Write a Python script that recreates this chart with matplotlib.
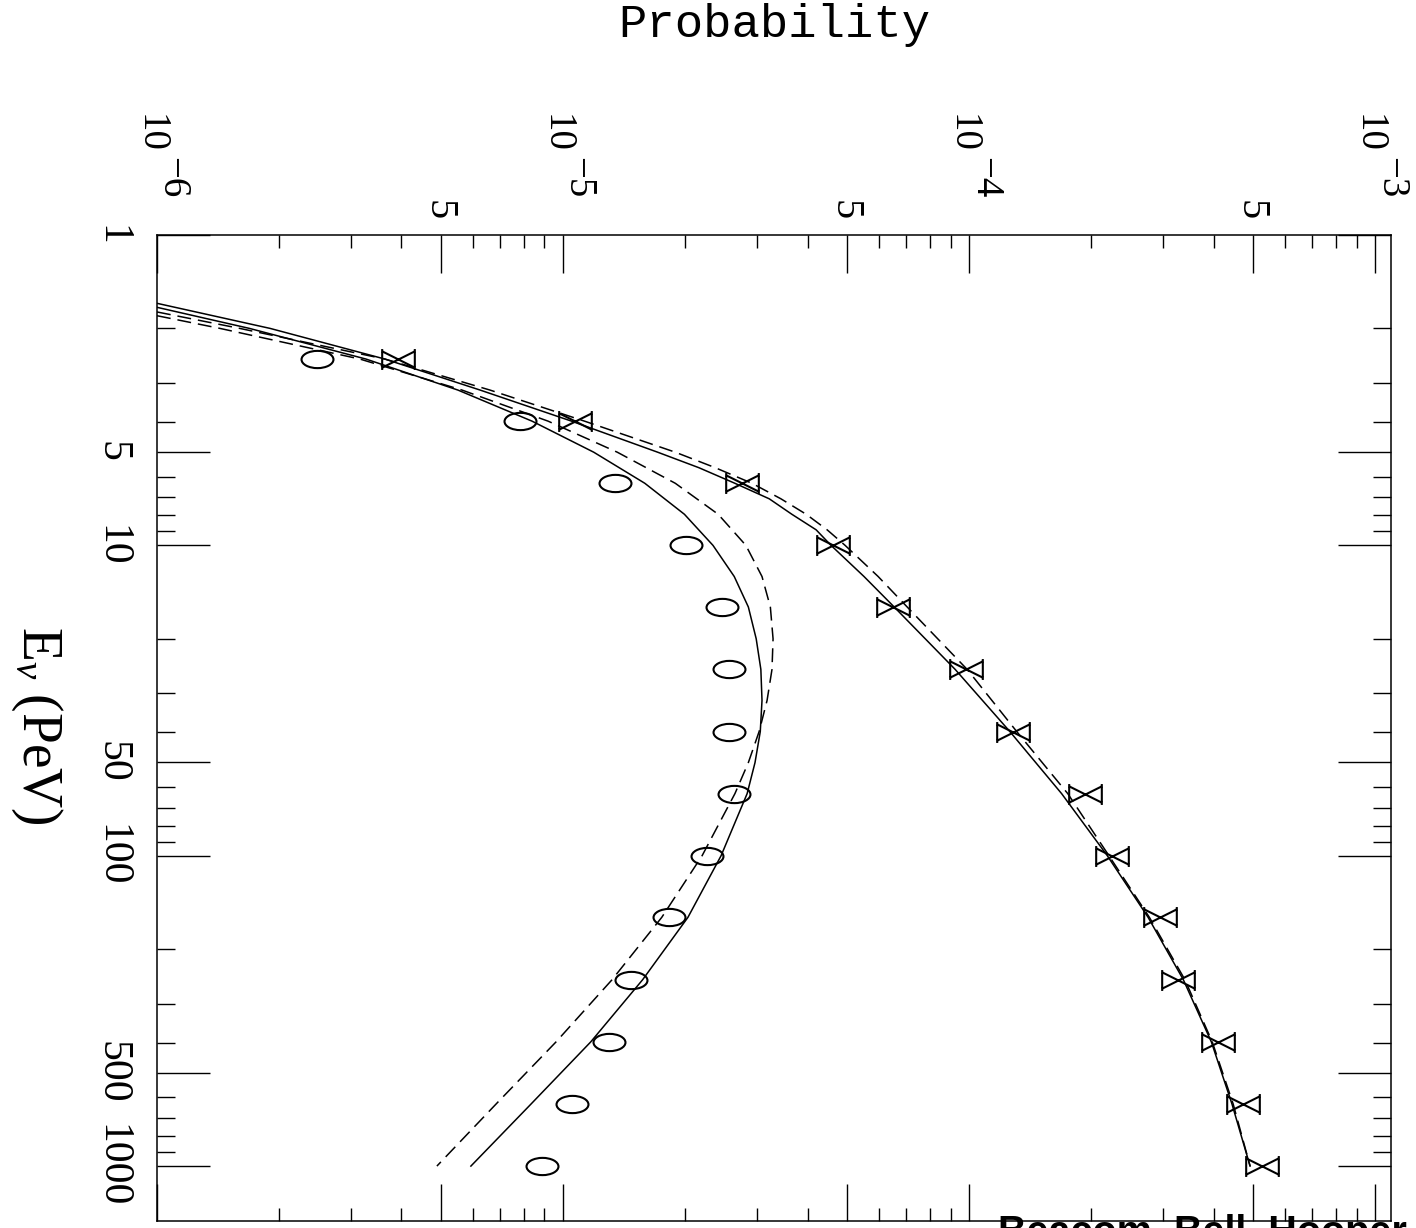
import matplotlib
matplotlib.use("Agg")
import matplotlib.pyplot as plt
from matplotlib.path import Path
from matplotlib.ticker import FixedLocator, NullFormatter
from matplotlib.transforms import blended_transform_factory, ScaledTranslation

plt.rcParams["lines.scale_dashes"] = False
plt.rcParams["mathtext.fontset"] = "custom"
plt.rcParams["mathtext.rm"] = "Liberation Serif"
plt.rcParams["mathtext.it"] = "Liberation Serif:italic"

# ---------------- data ----------------
E_points = [2.51, 3.98, 6.31, 10, 15.8, 25.1, 39.8, 63.1, 100, 158, 251, 398, 631, 1000]
P_x_points = [3.93e-6, 1.07e-5, 2.76e-5, 4.62e-5, 6.50e-5, 9.83e-5, 1.28e-4,
              1.93e-4, 2.25e-4, 2.95e-4, 3.27e-4, 4.10e-4, 4.73e-4, 5.27e-4]
P_o_points = [2.48e-6, 7.83e-6, 1.34e-5, 2.01e-5, 2.46e-5, 2.56e-5, 2.56e-5,
              2.64e-5, 2.26e-5, 1.82e-5, 1.47e-5, 1.30e-5, 1.05e-5, 8.87e-6]

# upper model curves (X series)
E_up_solid = [1.66, 2.0, 2.51, 3.16, 3.98, 5.01, 5.62, 6.31, 7.08, 7.94, 8.91, 10,
              12.6, 15.8, 25.1, 39.8, 63.1, 100, 158, 251, 398, 631, 1000]
P_up_solid = [1.00e-6, 1.90e-6, 3.64e-6, 6.25e-6, 1.05e-5, 1.71e-5, 2.16e-5, 2.65e-5,
              3.22e-5, 3.66e-5, 4.20e-5, 4.57e-5, 5.51e-5, 6.54e-5, 9.24e-5, 1.26e-4,
              1.69e-4, 2.19e-4, 2.76e-4, 3.37e-4, 3.95e-4, 4.44e-4, 4.92e-4]
E_up_dash = [1.77, 2.0, 2.51, 3.16, 3.98, 5.01, 5.62, 6.31, 7.08, 7.94, 8.91, 10,
             12.6, 15.8, 25.1, 39.8, 63.1, 100, 158, 251, 398, 631, 1000]
P_up_dash = [1.00e-6, 1.60e-6, 3.64e-6, 6.61e-6, 1.13e-5, 1.89e-5, 2.37e-5, 2.92e-5,
             3.44e-5, 3.97e-5, 4.47e-5, 4.95e-5, 5.97e-5, 7.04e-5, 9.89e-5, 1.31e-4,
             1.75e-4, 2.21e-4, 2.78e-4, 3.40e-4, 3.97e-4, 4.47e-4, 4.92e-4]

# lower model curves (O series)
E_lo_solid = [1.71, 2.0, 2.51, 3.16, 3.98, 5.01, 6.31, 7.94, 10, 12.6, 15.8, 20.0,
              25.1, 31.6, 39.8, 50.1, 63.1, 100, 158, 251, 398, 631, 1000]
P_lo_solid = [1.00e-6, 1.69e-6, 3.27e-6, 5.51e-6, 8.39e-6, 1.19e-5, 1.59e-5, 1.99e-5,
              2.34e-5, 2.64e-5, 2.86e-5, 2.99e-5, 3.07e-5, 3.09e-5, 3.06e-5, 2.97e-5,
              2.84e-5, 2.45e-5, 2.03e-5, 1.57e-5, 1.17e-5, 8.34e-6, 5.93e-6]
E_lo_dash = [1.82, 2.0, 2.51, 3.16, 3.98, 5.01, 6.31, 7.94, 10, 12.6, 15.8, 20.0,
             25.1, 31.6, 39.8, 50.1, 63.1, 100, 158, 251, 398, 631, 1000]
P_lo_dash = [1.00e-6, 1.43e-6, 3.16e-6, 5.64e-6, 9.19e-6, 1.36e-5, 1.89e-5, 2.41e-5,
             2.82e-5, 3.09e-5, 3.24e-5, 3.29e-5, 3.27e-5, 3.18e-5, 3.04e-5, 2.86e-5,
             2.65e-5, 2.20e-5, 1.75e-5, 1.32e-5, 9.61e-6, 6.84e-6, 4.89e-6]

P_major = [1e-6, 5e-6, 1e-5, 5e-5, 1e-4, 5e-4, 1e-3]
P_major_labels = [("10", "\u22126"), ("5", None), ("10", "\u22125"), ("5", None),
                  ("10", "\u22124"), ("5", None), ("10", "\u22123")]
P_minor = [2e-6, 3e-6, 4e-6, 6e-6, 7e-6, 8e-6, 9e-6,
           2e-5, 3e-5, 4e-5, 6e-5, 7e-5, 8e-5, 9e-5,
           2e-4, 3e-4, 4e-4, 6e-4, 7e-4, 8e-4, 9e-4]
E_major = [1, 5, 10, 50, 100, 500, 1000]
E_major_labels = ["1", "5", "10", "50", "100", "500", "1000"]
E_minor = [2, 3, 4, 6, 7, 8, 9, 20, 30, 40, 60, 70, 80, 90,
           200, 300, 400, 600, 700, 800, 900]

# ---------------- figure ----------------
W, H = 1416, 1228
fig = plt.figure(figsize=(W / 100, H / 100), dpi=100)
ax = fig.add_axes([157 / W, 1 - 1221 / H, (1391 - 157) / W, (1221 - 235) / H])
ax.set_xscale("log")
ax.set_yscale("log")
ax.set_xlim(1e-6, 1.094e-3)
ax.set_ylim(1503, 1)

# markers
o_path = Path.unit_circle()
o_path = Path(o_path.vertices * [1.0, 0.54], o_path.codes)
x_verts = [(-0.5, -0.25), (0.5, 0.25), (-0.5, 0.25), (0.5, -0.25),
           (-0.5, -0.32), (-0.5, 0.32), (0.5, -0.32), (0.5, 0.32)]
x_codes = [Path.MOVETO, Path.LINETO] * 4
x_path = Path(x_verts, x_codes)

lw = 1.1
ax.plot(P_up_solid, E_up_solid, color="black", lw=lw, solid_joinstyle="round")
ax.plot(P_up_dash, E_up_dash, color="black", lw=lw, dashes=[10, 5])
ax.plot(P_lo_solid, E_lo_solid, color="black", lw=lw, solid_joinstyle="round")
ax.plot(P_lo_dash, E_lo_dash, color="black", lw=lw, dashes=[10, 5])

ax.plot(P_x_points, E_points, linestyle="none", marker=x_path, markersize=23.5,
        markeredgecolor="black", markerfacecolor="none", markeredgewidth=1.5)
ax.plot(P_o_points, E_points, linestyle="none", marker=o_path, markersize=23,
        markeredgecolor="black", markerfacecolor="none", markeredgewidth=1.5)

# ticks
ax.xaxis.set_major_locator(FixedLocator(P_major))
ax.xaxis.set_minor_locator(FixedLocator(P_minor))
ax.yaxis.set_major_locator(FixedLocator(E_major))
ax.yaxis.set_minor_locator(FixedLocator(E_minor))
for a in (ax.xaxis, ax.yaxis):
    a.set_major_formatter(NullFormatter())
    a.set_minor_formatter(NullFormatter())
ax.tick_params(which="both", direction="in", top=True, bottom=True, left=True,
               right=True, labeltop=False, labelbottom=False, labelleft=False,
               labelright=False, color="black", width=1.0)
ax.tick_params(axis="x", which="major", length=27)
ax.tick_params(axis="x", which="minor", length=9.5)
ax.tick_params(axis="y", which="major", length=38)
ax.tick_params(axis="y", which="minor", length=13)
for s in ax.spines.values():
    s.set_linewidth(1.1)
    s.set_color("black")

serif = "Liberation Serif"
bx = blended_transform_factory(ax.transData, ax.transAxes)
for v, (base, expo) in zip(P_major, P_major_labels):
    if expo is None:
        ax.text(v, 1.0, base, rotation=-90, ha="center", va="center", fontsize=29,
                family=serif, transform=bx + ScaledTranslation(-0.03, 0.25, fig.dpi_scale_trans))
    else:
        ax.text(v, 1.0, base, rotation=-90, ha="center", va="center", fontsize=28,
                family=serif, transform=bx + ScaledTranslation(-0.07, 1.02, fig.dpi_scale_trans))
        ax.text(v, 1.0, expo, rotation=-90, ha="center", va="center", fontsize=28,
                family=serif, transform=bx + ScaledTranslation(0.15, 0.57, fig.dpi_scale_trans))

by = blended_transform_factory(ax.transAxes, ax.transData)
for v, lab in zip(E_major, E_major_labels):
    ax.text(0.0, v, lab, rotation=-90, ha="center", va="center", fontsize=30,
            family=serif, transform=by + ScaledTranslation(-0.45, 0, fig.dpi_scale_trans))

fig.text(774 / W, 1 - 25 / H, "Probability", ha="center", va="center",
         fontsize=34, family="Liberation Mono")
fig.text(37 / W, 1 - 725 / H, r"$\mathrm{E}_{\nu}$ (PeV)", rotation=-90,
         ha="center", va="center", fontsize=40, family=serif)
fig.text(998 / W, 1 - 1244 / H, "Beacom, Bell, Hooper, Pakvasa, Weiler",
         ha="left", va="baseline", fontsize=28.5, family="Liberation Sans",
         weight="bold")

fig.savefig("out.png", dpi=100, facecolor="white")
